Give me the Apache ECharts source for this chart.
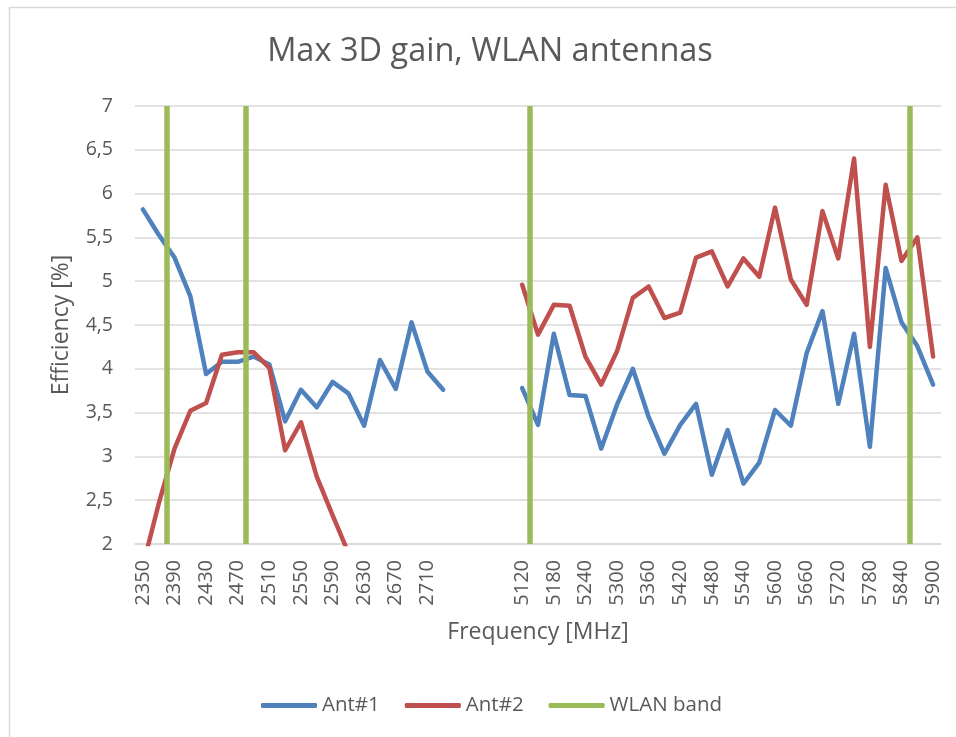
<!DOCTYPE html>
<html>
<head>
<meta charset="utf-8">
<script src="https://cdn.jsdelivr.net/npm/echarts@6/dist/echarts.min.js"></script>
<style>
  html, body { margin: 0; padding: 0; background: #fff; }
  #maxGain { width: 956px; height: 737px; }
</style>
</head>
<body>
<div id="maxGain"></div>
<script>
// frequencies (MHz); the 4 empty slots make the gap between the two bands
var band24 = ['2350', '2370', '2390', '2410', '2430', '2450', '2470', '2490', '2510', '2530',
              '2550', '2570', '2590', '2610', '2630', '2650', '2670', '2690', '2710', '2730'];
var bandGap = ['', '', '', ''];
var band5 = ['5120', '5150', '5180', '5210', '5240', '5270', '5300', '5330', '5360', '5390',
             '5420', '5450', '5480', '5510', '5540', '5570', '5600', '5630', '5660', '5690',
             '5720', '5750', '5780', '5810', '5840', '5870', '5900'];
var frequencies = band24.concat(bandGap, band5);

// efficiency [%]
var ant1_24 = [5.82, 5.53, 5.27, 4.83, 3.94, 4.08, 4.08, 4.14, 4.05, 3.40,
               3.76, 3.56, 3.85, 3.72, 3.35, 4.10, 3.77, 4.53, 3.97, 3.76];
var ant1_5 = [3.78, 3.36, 4.40, 3.70, 3.69, 3.09, 3.59, 4.00, 3.45, 3.03,
              3.36, 3.60, 2.79, 3.30, 2.69, 2.93, 3.53, 3.35, 4.18, 4.66,
              3.60, 4.40, 3.11, 5.15, 4.53, 4.26, 3.82];
var ant2_24 = [1.75, 2.46, 3.09, 3.52, 3.61, 4.16, 4.19, 4.19, 4.01, 3.07,
               3.39, 2.77, 2.33, 1.90, null, null, null, null, null, null];
var ant2_5 = [4.96, 4.39, 4.73, 4.72, 4.14, 3.82, 4.20, 4.81, 4.94, 4.58,
              4.64, 5.27, 5.34, 4.94, 5.26, 5.05, 5.84, 5.02, 4.73, 5.80,
              5.26, 6.40, 4.25, 6.10, 5.23, 5.50, 4.14];
var gapValues = [null, null, null, null];

// WLAN band edges, in category slots (x.5 = between two categories)
var wlanBandPos = [1.5, 6.5, 24.5, 48.5];

var yTicks = { min: 2, max: 7, interval: 0.5 };

var textColor = '#595959';
var gridColor = '#d9d9d9';
var fontName = 'Open Sans';

var myChart = echarts.init(document.getElementById('maxGain'));
myChart.setOption({
  animation: false,
  textStyle: { fontFamily: fontName },
  graphic: [{
    type: 'rect',
    shape: { x: 9.5, y: 7.5, width: 1000, height: 1000 },
    style: { fill: 'none', stroke: gridColor, lineWidth: 1.5 },
    silent: true
  }],
  title: {
    text: 'Max 3D gain, WLAN antennas',
    left: 490,
    top: 35,
    textAlign: 'center',
    padding: 0,
    textStyle: { color: textColor, fontSize: 32.5, fontWeight: 'normal', fontFamily: fontName }
  },
  legend: {
    left: 261,
    top: 695,
    padding: 0,
    itemWidth: 56,
    itemHeight: 5,
    itemGap: 25,
    icon: 'roundRect',
    textStyle: { color: textColor, fontSize: 20.5, fontFamily: fontName },
    data: ['Ant#1', 'Ant#2', 'WLAN band']
  },
  grid: {
    left: 135,
    right: 15,
    top: 106,
    bottom: 193
  },
  xAxis: [{
    type: 'category',
    data: frequencies,
    boundaryGap: true,
    name: 'Frequency [MHz]',
    nameLocation: 'middle',
    nameGap: 77,
    nameTextStyle: { color: textColor, fontSize: 23, fontFamily: fontName },
    axisLine: { lineStyle: { color: gridColor, width: 1.5 } },
    axisTick: { show: false },
    axisLabel: {
      interval: 1,
      rotate: 90,
      margin: 16,
      color: textColor,
      fontSize: 20,
      fontFamily: fontName
    }
  }, {
    // plain number scale over the same slots, used for the band edge lines
    type: 'value',
    min: -0.5,
    max: frequencies.length - 0.5,
    show: false
  }],
  yAxis: {
    type: 'value',
    min: yTicks.min,
    max: yTicks.max,
    interval: yTicks.interval,
    name: 'Efficiency [%]',
    nameLocation: 'middle',
    nameGap: 62,
    nameTextStyle: { color: textColor, fontSize: 23, fontFamily: fontName },
    axisLine: { show: false },
    axisTick: { show: false },
    splitLine: { lineStyle: { color: gridColor, width: 1.5 } },
    axisLabel: {
      margin: 22,
      color: textColor,
      fontSize: 19.5,
      fontFamily: fontName,
      formatter: function (v) { return String(v).replace('.', ','); }
    }
  },
  series: [{
    name: 'Ant#1',
    type: 'line',
    data: ant1_24.concat(gapValues, ant1_5),
    showSymbol: false,
    symbol: 'none',
    connectNulls: false,
    clip: true,
    itemStyle: { color: '#4f81bd' },
    lineStyle: { color: '#4f81bd', width: 4.5, join: 'round', cap: 'round' }
  }, {
    name: 'Ant#2',
    type: 'line',
    data: ant2_24.concat(gapValues, ant2_5),
    showSymbol: false,
    symbol: 'none',
    connectNulls: false,
    clip: true,
    itemStyle: { color: '#c0504d' },
    lineStyle: { color: '#c0504d', width: 4.5, join: 'round', cap: 'round' }
  }, {
    name: 'WLAN band',
    type: 'line',
    xAxisIndex: 1,
    data: [],
    symbol: 'none',
    itemStyle: { color: '#9bbb59' },
    lineStyle: { color: '#9bbb59', width: 5 },
    markLine: {
      silent: true,
      symbol: ['none', 'none'],
      label: { show: false },
      lineStyle: { type: 'solid', color: '#9bbb59', width: 5.5 },
      data: wlanBandPos.map(function (p) { return { xAxis: p }; })
    }
  }]
});
</script>
</body>
</html>
